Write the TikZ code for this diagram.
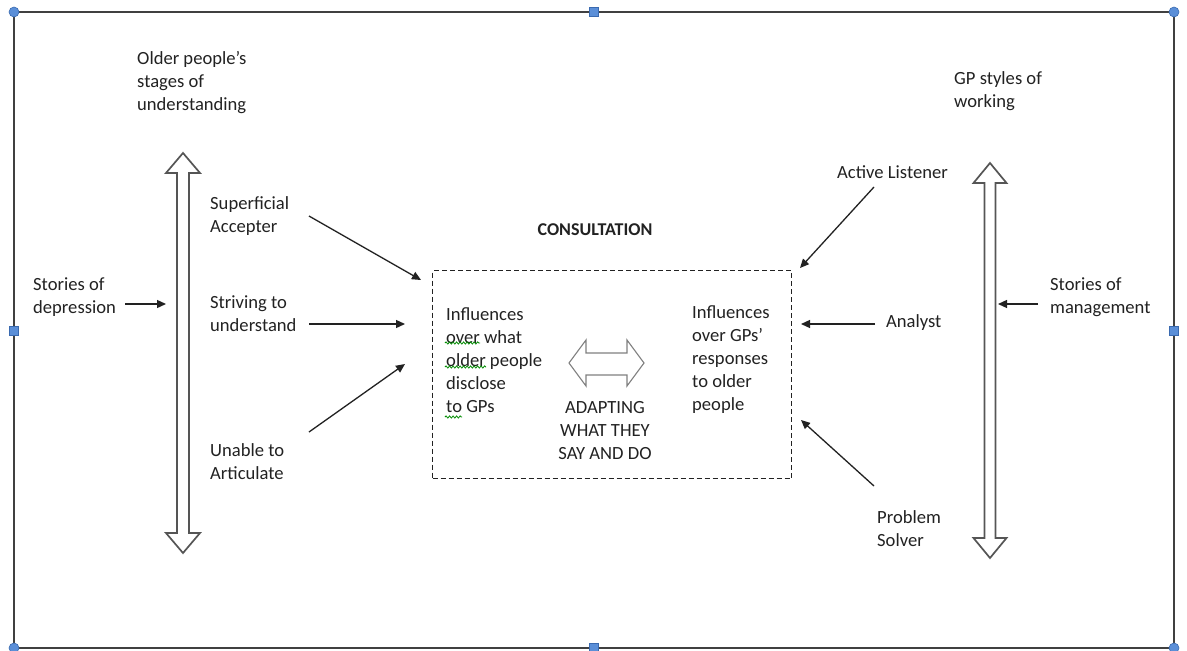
\documentclass[tikz,border=0pt]{standalone}
\usepackage{fontspec}
\setmainfont{Carlito}
\usetikzlibrary{arrows.meta,decorations.pathmorphing}
\definecolor{txtcol}{HTML}{222222}
\definecolor{framecol}{HTML}{404040}
\definecolor{handlefill}{HTML}{5B8FD8}
\definecolor{handledraw}{HTML}{3A6AB0}
\definecolor{bigarrow}{HTML}{555555}
\tikzset{
  txt/.style={font=\fontsize{18.6}{23}\selectfont, inner sep=0pt, align=left, anchor=west, text=txtcol},
  ctxt/.style={txt, align=center, anchor=center},
  arr/.style={line width=1.3pt, draw=txtcol, -{Triangle[length=9pt,width=8pt]}},
  frameline/.style={line width=1.6pt, draw=framecol},
  roundhandle/.style={circle, fill=handlefill, draw=handledraw, line width=0.6pt, minimum size=10pt, inner sep=0pt},
  squarehandle/.style={rectangle, fill=handlefill, draw=handledraw, line width=0.6pt, minimum size=9pt, inner sep=0pt},
  bigdouble/.style={draw=bigarrow, fill=white, line width=1.7pt, line join=miter},
  smalldouble/.style={draw=gray, fill=white, line width=1.1pt},
  consbox/.style={draw=txtcol, dash pattern=on 5pt off 3pt, line width=1.1pt, minimum width=359pt, minimum height=208pt, anchor=north west, inner sep=0pt},
  squiggle/.style={draw=green!55!black, line width=0.8pt, decorate, decoration={snake, amplitude=1.1pt, segment length=3.5pt}}
}
\begin{document}
\begin{tikzpicture}[x=1pt,y=-1pt]
\useasboundingbox (0,0) rectangle (1187,651);
\fill[white] (0,0) rectangle (1187,651);

% selection frame
\draw[frameline] (14,12) rectangle (1174,648);
\node[roundhandle] (h1) at (14,12) {};
\node[roundhandle] (h2) at (1174,12) {};
\node[roundhandle] (h3) at (14,648) {};
\node[roundhandle] (h4) at (1174,648) {};
\node[squarehandle] (h5) at (594,12) {};
\node[squarehandle] (h6) at (14,331) {};
\node[squarehandle] (h7) at (1174,331) {};
\node[squarehandle] (h8) at (594,648) {};

% big vertical double arrows
\draw[bigdouble] (183,153) -- (200,173) -- (189,173) -- (189,533) -- (200,533) -- (183,553)
  -- (166,533) -- (177,533) -- (177,173) -- (166,173) -- cycle;
\draw[bigdouble] (990,163) -- (1006.5,183) -- (995.5,183) -- (995.5,538) -- (1006.5,538) -- (990,558)
  -- (973.5,538) -- (984.5,538) -- (984.5,183) -- (973.5,183) -- cycle;

% headings
\node[txt] (op) at (137,83) {Older people’s\\stages of\\understanding};
\node[txt] (gp) at (954,91) {GP styles of\\working};

% left labels
\node[txt] (sd) at (33,297) {Stories of\\depression};
\node[txt] (sa) at (210,216.5) {Superficial\\Accepter};
\node[txt] (st) at (210,313.5) {Striving to\\understand};
\node[txt] (ua) at (210,461.5) {Unable to\\Articulate};

% right labels
\node[txt] (al) at (837,172) {Active Listener};
\node[txt] (an) at (886,323) {Analyst};
\node[txt] (ps) at (877,528.5) {Problem\\Solver};
\node[txt] (sm) at (1050,297) {Stories of\\management};

% consultation
\node[ctxt, font=\fontsize{18}{23}\selectfont\bfseries] (cons) at (595,230) {CONSULTATION};
\node[consbox] (box) at (432,270) {};
\node[txt] (inl) at (446,360) {Influences\\over what\\older people\\disclose\\to GPs};
\node[txt] (inr) at (692,360) {Influences\\over GPs’\\responses\\to older\\people};
\node[ctxt] (adapt) at (605,430.5) {ADAPTING\\WHAT THEY\\SAY AND DO};
\draw[smalldouble] (569,363) -- (586,340) -- (586,353) -- (627,353) -- (627,340) -- (644,363)
  -- (627,386) -- (627,375) -- (586,375) -- (586,386) -- cycle;

% spell-check squiggles
\draw[squiggle] (445,343) -- (480,343);
\draw[squiggle] (445,367) -- (486,367);
\draw[squiggle] (445,417) -- (462,417);

% connector end points
\coordinate (sdS) at (125,304);
\coordinate (sdE) at (166,304);
\coordinate (saS) at (309,216);
\coordinate (saE) at (421,280);
\coordinate (stS) at (309,324);
\coordinate (stE) at (405,324);
\coordinate (uaS) at (309,432);
\coordinate (uaE) at (405,364);
\coordinate (alS) at (874,187);
\coordinate (alE) at (800,268);
\coordinate (anS) at (875,324);
\coordinate (anE) at (801,324);
\coordinate (psS) at (874,486);
\coordinate (psE) at (801,420);
\coordinate (smS) at (1038,304);
\coordinate (smE) at (998,304);

\draw[arr] (sdS) -- (sdE);
\draw[arr] (saS) -- (saE);
\draw[arr] (stS) -- (stE);
\draw[arr] (uaS) -- (uaE);
\draw[arr] (alS) -- (alE);
\draw[arr] (anS) -- (anE);
\draw[arr] (psS) -- (psE);
\draw[arr] (smS) -- (smE);
\end{tikzpicture}
\end{document}
